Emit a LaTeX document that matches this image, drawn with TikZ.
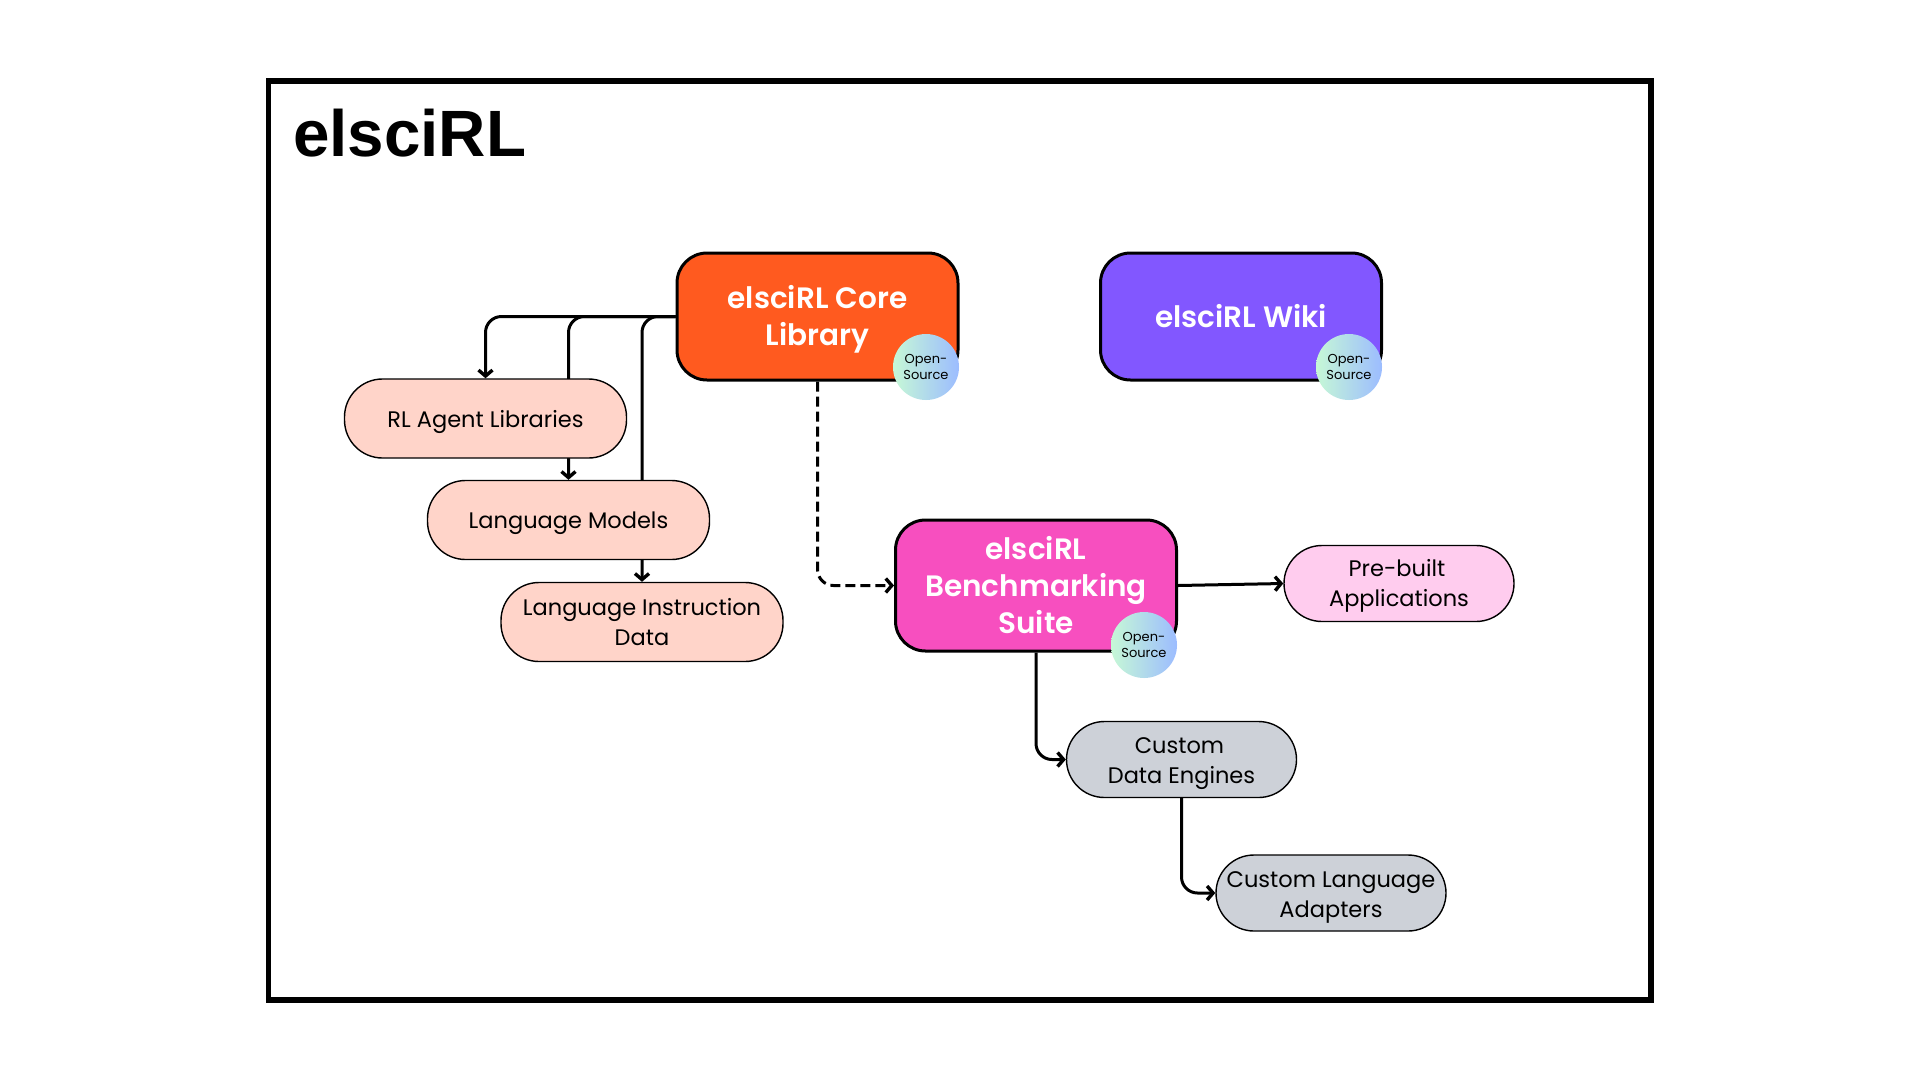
\documentclass[tikz,border=0pt]{standalone}
\usepackage{fontspec}
\setmainfont{Poppins}[BoldFont={Poppins SemiBold}]
\newfontfamily\titlefont{Liberation Sans}
\usetikzlibrary{arrows.meta,backgrounds}
\definecolor{coreC}{HTML}{FF5A1F}
\definecolor{wikiC}{HTML}{8257FF}
\definecolor{benchC}{HTML}{F74FBF}
\definecolor{peachC}{HTML}{FFD4C9}
\definecolor{pinkC}{HTML}{FFCCEE}
\definecolor{grayC}{HTML}{CDD1D8}
\definecolor{gradL}{HTML}{C6F8D6}
\definecolor{gradM}{HTML}{B6DDE2}
\definecolor{gradR}{HTML}{9CBCFF}
\newcommand\tdown[2]{\raisebox{-#1}[\height][\depth]{\begin{tabular}{@{}c@{}}#2\end{tabular}}}
\tikzset{
  mainbox/.style={draw=black,line width=3pt,rounded corners=30pt,text=white,align=center,inner sep=0pt,minimum width=281pt,font=\fontsize{29.5}{37}\selectfont\bfseries},
  pill/.style={draw=black,line width=1.4pt,rounded corners=38pt,align=center,inner sep=0pt,text=black,font=\fontsize{22.5}{30}\selectfont},
  badge/.style={circle,minimum size=66pt,inner sep=0pt,left color=gradL,middle color=gradM,right color=gradR,align=center,text=black,font=\fontsize{13}{16}\selectfont},
  conn/.style={draw=black,line width=3pt,rounded corners=16pt,-{Straight Barb[length=6pt,width=14pt,line width=3.4pt]}},
}
\begin{document}
\begin{tikzpicture}[x=1pt,y=-1pt]
\useasboundingbox (0,0) rectangle (1920,1080);
\draw[line width=5.8pt,black] (268.5,81) rectangle (1651,1000);
\node[anchor=base west,inner sep=0pt,font=\titlefont\fontsize{65.5}{66}\selectfont\bfseries] (title) at (293,156.5) {elsciRL};

\node[mainbox,fill=coreC,minimum height=127pt] (core) at (817.5,316.5) {\tdown{3.5pt}{elsciRL Core\\Library}};
\node[mainbox,fill=wikiC,minimum height=127pt] (wiki) at (1241,316.5) {elsciRL Wiki};
\node[mainbox,fill=benchC,minimum height=131pt] (bench) at (1036,585.5) {elsciRL\\Benchmarking\\Suite};

\node[pill,fill=peachC,minimum width=282pt,minimum height=79pt] (rl) at (485.5,418.5) {\tdown{2.5pt}{RL Agent Libraries}};
\node[pill,fill=peachC,minimum width=282pt,minimum height=79pt] (lm) at (568.5,520) {\tdown{2pt}{Language Models}};
\node[pill,fill=peachC,minimum width=282pt,minimum height=79pt] (lid) at (642,622) {Language Instruction\\Data};
\node[pill,fill=pinkC,minimum width=230pt,minimum height=76pt] (pre) at (1399,583.5) {\tdown{1.5pt}{Pre-built\hspace*{4pt}\\Applications}};
\node[pill,fill=grayC,minimum width=230pt,minimum height=76pt] (cde) at (1181.5,759.5) {\tdown{3pt}{Custom\hspace*{4pt}\\Data Engines}};
\node[pill,fill=grayC,minimum width=230pt,minimum height=76pt] (cla) at (1331,893) {\tdown{3pt}{Custom Language\\Adapters}};

\node[badge] (b1) at (926,367) {Open-\\Source};
\node[badge] (b2) at (1349,367) {Open-\\Source};
\node[badge] (b3) at (1144,645) {Open-\\Source};

\begin{scope}[on background layer]
\fill[white] (0,0) rectangle (1920,1080);
\draw[conn] (core.west) -| (rl.north);
\draw[conn] (core.west) -| (lm.north);
\draw[conn] (core.west) -| (lid.north);
\draw[conn,dashed,dash pattern=on 10pt off 5pt] (core.south) |- (bench.west);
\draw[conn,rounded corners=0pt] (bench.east) -- (pre.west);
\draw[conn] (bench.south) |- (cde.west);
\draw[conn] (cde.south) |- (cla.west);
\end{scope}
\end{tikzpicture}
\end{document}
